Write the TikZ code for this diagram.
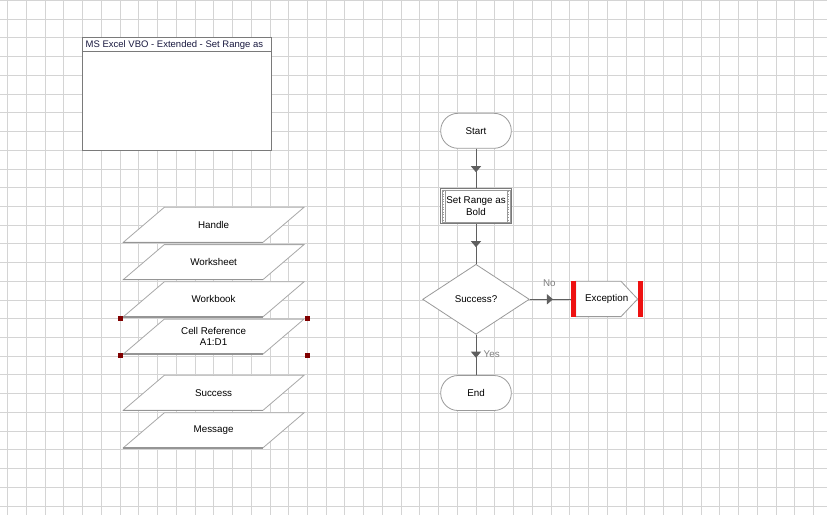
\documentclass[tikz,border=0pt]{standalone}
\usepackage{fontspec}
\setmainfont{Liberation Sans}
\usetikzlibrary{arrows.meta,decorations.markings,shapes.geometric}
\definecolor{gridc}{HTML}{D4D4D4}
\definecolor{edgec}{HTML}{7A7A7A}
\definecolor{termc}{HTML}{9A9A9A}
\definecolor{pedge}{HTML}{A8A8A8}
\definecolor{pbot}{HTML}{959595}
\definecolor{conn}{HTML}{5F5F5F}
\definecolor{exred}{HTML}{EE1111}
\definecolor{selc}{HTML}{800000}
\definecolor{titlec}{HTML}{1A1A40}
\definecolor{faintc}{HTML}{808080}
\tikzset{
  lbl/.style={font=\fontsize{9.8}{11.6}\selectfont, inner sep=0pt, align=center, text=black},
  faint/.style={font=\fontsize{9.8}{11.6}\selectfont, inner sep=0pt, text=faintc},
  terminal/.style={lbl, draw=termc, fill=white, line width=0.8pt, rounded corners=17.3pt,
    minimum width=70.6pt, minimum height=35pt},
  actionbox/.style={lbl, draw=edgec, fill=white, line width=0.8pt,
    minimum width=71.4pt, minimum height=35.4pt},
  decision/.style={lbl, diamond, draw=termc, fill=white, line width=0.8pt,
    minimum width=106.7pt, minimum height=70pt},
  conline/.style={draw=conn, line width=0.9pt},
  midarrow/.style={postaction={decorate}, decoration={markings,
    mark=at position #1 with {\arrow[conn]{Triangle[width=10pt,length=6pt]}}}},
  selhandle/.style={fill=selc, draw=none, minimum size=5pt, inner sep=0pt},
}
\begin{document}
\begin{tikzpicture}[x=1pt,y=-1pt]
\useasboundingbox (0,0) rectangle (827,515);
\fill[white] (0,0) rectangle (827,515);
% grid
\foreach \k in {0,...,43} \draw[gridc, line width=0.9pt] ({7.6+18.74*\k},0) -- ({7.6+18.74*\k},515);
\foreach \k in {0,...,27} \draw[gridc, line width=0.9pt] (0,{0.5+18.72*\k}) -- (827,{0.5+18.72*\k});

% object box
\node[draw=edgec, fill=white, line width=0.8pt, minimum width=189.4pt, minimum height=113.4pt, inner sep=0pt] (vbo) at (177,94) {};
\draw[edgec, line width=0.8pt] (vbo.west |- 0,51.3) -- (vbo.east |- 0,51.3);
\node[anchor=west, inner sep=0pt, font=\fontsize{9.5}{11}\selectfont, text=titlec] (vbotitle) at (85.5,45) {MS Excel VBO - Extended - Set Range as};

% data items
\foreach \n/\t/\lab in {handle/207.3/Handle, wsheet/244.6/Worksheet, wbook/281.8/Workbook, cellref/319.1/{Cell Reference\\A1:D1}, succ/375.3/Success, msg/412.8/Message}{
  \filldraw[fill=white, draw=pedge, line width=0.8pt] (164.3,\t) -- (304,\t) -- (263,{\t+35}) -- (123.3,{\t+35}) -- cycle;
  \draw[pbot, line width=1.6pt] (123.3,{\t+35}) -- (263,{\t+35});
  \node[lbl] (\n) at (213.6,{\t+17.5}) {\lab};
}
% selection handles
\node[selhandle] (s1) at (120.3,318) {};
\node[selhandle] (s2) at (307.3,318) {};
\node[selhandle] (s3) at (120.3,355) {};
\node[selhandle] (s4) at (307.3,355) {};

% flowchart
\node[terminal] (start) at (476,130.8) {Start};
\node[actionbox] (sr) at (476,206) {Set Range as\\Bold};
\draw[termc, line width=0.5pt] (441.9,189.9) rectangle (510.1,222.1);
\draw[termc, line width=0.6pt, dotted] (443.3,191) -- (443.3,221);
\draw[termc, line width=0.6pt, dotted] (508.7,191) -- (508.7,221);
\draw[termc, line width=0.5pt] (445,190) -- (445,222);
\draw[termc, line width=0.5pt] (507,190) -- (507,222);
\node[decision] (dec) at (476,299.3) {Success?};
\node[terminal] (endn) at (476,393) {End};

% exception
\node[inner sep=0pt, minimum width=72pt, minimum height=35.3pt] (exc) at (606.7,299) {};
\filldraw[fill=white, draw=termc, line width=0.8pt] (575.7,281.3) -- (621,281.3) -- (637.6,299) -- (621,316.6) -- (575.7,316.6) -- cycle;
\fill[exred] (570.7,281.3) rectangle (575.7,316.6);
\fill[exred] (637.7,281.3) rectangle (642.7,316.6);
\node[lbl] (exclbl) at (606.7,299) {Exception};

% connectors
\draw[conline, midarrow=0.6] (start) -- (sr);
\draw[conline, midarrow=0.58] (sr) -- (dec);
\draw[conline, midarrow=0.57] (dec) -- (endn);
\draw[conline, midarrow=0.57] (dec.east) -- (dec.east -| exc.west);
\node[faint] (nolbl) at (549.3,282.7) {No};
\node[faint] (yeslbl) at (491.7,354) {Yes};
\end{tikzpicture}
\end{document}
